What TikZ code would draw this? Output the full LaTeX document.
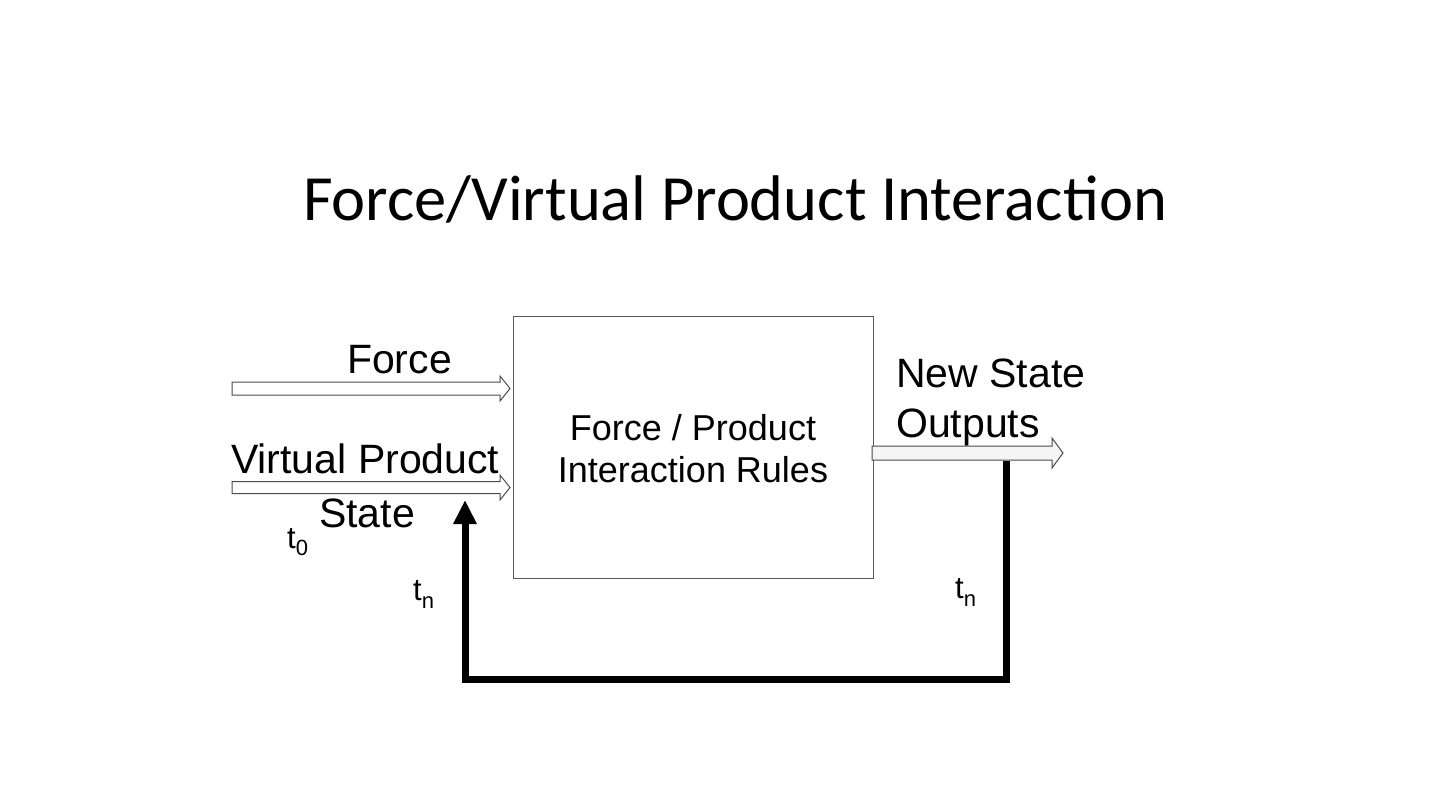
\documentclass[tikz,border=0pt]{standalone}
\usepackage{fontspec}
\setmainfont{Liberation Sans}
\newfontfamily\titlefont{Carlito}
\usetikzlibrary{arrows.meta,calc}
\begin{document}
\begin{tikzpicture}[x=1pt,y=-1pt,
  lbl/.style={font=\fontsize{41}{46}\selectfont, inner sep=0},
  boxtxt/.style={font=\fontsize{36}{42}\selectfont, inner sep=0, anchor=base},
  tlbl/.style={font=\fontsize{31}{31}\selectfont, inner sep=0, anchor=base west},
  blockarrow/.style={draw=gray!60!black, line width=1pt, line join=miter},
  feedback/.style={line width=7pt, line join=miter, -{Triangle[length=24pt,width=22pt]}}]
\useasboundingbox (0,0) rectangle (1430,804);
\fill[white] (0,0) rectangle (1430,804);

% title
\node[anchor=base, inner sep=0, font=\titlefont\fontsize{64.5}{70}\selectfont] (title) at (735,220) {Force/Virtual Product Interaction};

% main box
\node[draw=gray!70!black, line width=1pt, minimum width=360pt, minimum height=262pt, inner sep=0] (box) at (693,447) {};
\node[boxtxt] (boxl1) at (693,440) {Force / Product};
\node[boxtxt] (boxl2) at (693,482) {Interaction Rules};

% input arrows
\draw[blockarrow, fill=white] (232,382) -- (500,382) -- (500,376) -- (510,388.5) -- (500,401) -- (500,395) -- (232,395) -- cycle;
\draw[blockarrow, fill=white] (232,481.5) -- (500,481.5) -- (500,475) -- (510,487.5) -- (500,500) -- (500,493.5) -- (232,493.5) -- cycle;
% output arrow
\draw[blockarrow, fill=gray!8] (872,446) -- (1052,446) -- (1052,438) -- (1063,453) -- (1052,468) -- (1052,460) -- (872,460) -- cycle;

% labels
\node[lbl, anchor=base] (force) at (399.5,373) {Force};
\node[lbl, anchor=base west] (vp) at (231,473) {Virtual Product};
\node[lbl, anchor=base] (state) at (367,527) {State};
\node[lbl, anchor=base west] (ns1) at (896,387) {New State};
\node[lbl, anchor=base west] (ns2) at (896,437) {Outputs};

\node[tlbl] (t0) at (287,548) {t\raisebox{-7pt}{\fontsize{22}{22}\selectfont 0}};
\node[tlbl] (tn1) at (413,600) {t\raisebox{-8pt}{\fontsize{22}{22}\selectfont n}};
\node[tlbl] (tn2) at (955,598) {t\raisebox{-8pt}{\fontsize{22}{22}\selectfont n}};

% feedback loop
\coordinate (tap) at (1006,461);
\coordinate (tip) at (465,500);
\coordinate (c1) at (1006,679);
\coordinate (c2) at (465,679);
\draw[feedback] (tap) -- (c1) -- (c2) -- (tip);
\end{tikzpicture}
\end{document}
